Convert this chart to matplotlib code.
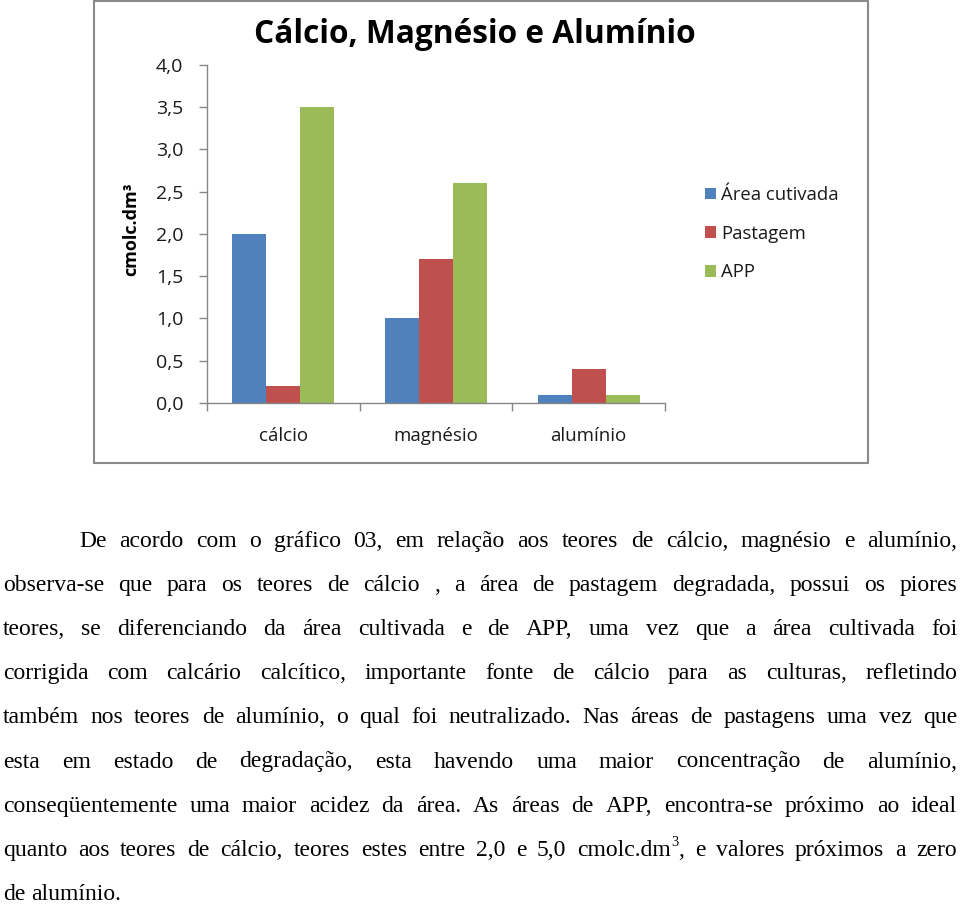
import matplotlib
matplotlib.use("Agg")
import matplotlib.pyplot as plt
import numpy as np
from matplotlib.patches import Rectangle

# dados do gráfico
categories = ["cálcio", "magnésio", "alumínio"]
series_names = ["Área cutivada", "Pastagem", "APP"]
area_cultivada = [2.0, 1.0, 0.1]
pastagem = [0.2, 1.7, 0.4]
app = [3.5, 2.6, 0.1]
y_ticks = [0.0, 0.5, 1.0, 1.5, 2.0, 2.5, 3.0, 3.5, 4.0]
y_tick_labels = ["0,0", "0,5", "1,0", "1,5", "2,0", "2,5", "3,0", "3,5", "4,0"]
title = "Cálcio, Magnésio e Alumínio"
y_label = "cmolc.dm³"
colors = ["#4F81BD", "#C0504D", "#9BBB59"]

# texto abaixo do gráfico (linhas justificadas); "^" marca o expoente
paragraph_lines = [
    "De acordo com o gráfico 03, em relação aos teores de cálcio, magnésio e alumínio,",
    "observa-se que para os teores de cálcio , a área de pastagem degradada, possui os piores",
    "teores, se diferenciando da área cultivada e de APP, uma vez que a área cultivada foi",
    "corrigida com calcário calcítico, importante fonte de cálcio para as culturas, refletindo",
    "também nos teores de alumínio, o qual foi neutralizado. Nas áreas de pastagens uma vez que",
    "esta em estado de degradação, esta havendo uma maior concentração de alumínio,",
    "conseqüentemente uma maior acidez da área. As áreas de APP, encontra-se próximo ao ideal",
    "quanto aos teores de cálcio, teores estes entre 2,0 e 5,0 cmolc.dm^3^, e valores próximos a zero",
    "de alumínio.",
]

W, H = 960, 906
fig = plt.figure(figsize=(W / 100, H / 100), dpi=100)

# camada de fundo em pixels
bg = fig.add_axes([0, 0, 1, 1])
bg.set_xlim(0, W)
bg.set_ylim(H, 0)
bg.axis("off")
bg.add_patch(Rectangle((93.5, 1), 774, 462, fill=False, edgecolor="#8a8a8a", lw=1.5))

chart_font = "Open Sans"
txt_color = "#1a1a1a"

# eixo do gráfico
ax = fig.add_axes([207 / W, 1 - 403 / H, 458 / W, 338 / H])
x = np.arange(len(categories))
bw = 0.222
for i, vals in enumerate([area_cultivada, pastagem, app]):
    ax.bar(x + (i - 1) * bw, vals, bw, color=colors[i], label=series_names[i], zorder=2)

ax.set_xlim(-0.5, 2.5)
ax.set_ylim(0, 4)
for s in ["top", "right"]:
    ax.spines[s].set_visible(False)
for s in ["left", "bottom"]:
    ax.spines[s].set_color("#868686")
    ax.spines[s].set_linewidth(1)

ax.set_yticks(y_ticks, y_tick_labels)
ax.tick_params(axis="y", length=6, width=1, color="#868686", pad=11,
               labelsize=14, labelcolor=txt_color)
ax.set_xticks(x, categories)
ax.set_xticks(np.arange(-0.5, 3, 1), minor=True)
ax.tick_params(axis="x", which="major", length=0, pad=17, labelsize=13.5, labelcolor=txt_color)
ax.tick_params(axis="x", which="minor", length=6, width=1, color="#868686")
for lab in ax.get_xticklabels() + ax.get_yticklabels():
    lab.set_family(chart_font)

bg.text(475, 43, title, fontsize=22.8, fontweight="bold", family=chart_font,
        ha="center", va="baseline", color="black")
bg.text(131, 229, y_label, fontsize=13, fontweight="bold", family=chart_font,
        rotation=90, ha="center", va="center", color="black")

leg = ax.legend(loc="upper left", bbox_to_anchor=(705 / W, 1 - 186 / H),
                bbox_transform=fig.transFigure, frameon=False, borderpad=0,
                borderaxespad=0, handlelength=0.6, handleheight=0.6,
                handletextpad=0.28, labelspacing=1.12,
                prop={"family": chart_font, "size": 13.3})
for t in leg.get_texts():
    t.set_color(txt_color)

# parágrafo justificado
renderer = fig.canvas.get_renderer()
fsize = 17
serif = "Liberation Serif"
x_right = 957
base_y = 547
line_gap = 44.1
space_w = 0.25 * fsize * 100 / 72


def make_word(word, y):
    # devolve lista de (Text, largura)
    parts = []
    if "^" in word:
        base, sup, tail = word.split("^")
        pieces = [(base, fsize, 0), (sup, fsize * 0.6, -fsize * 0.55), (tail, fsize, 0)]
    else:
        pieces = [(word, fsize, 0)]
    for s, sz, dy in pieces:
        if not s:
            continue
        t = bg.text(0, y + dy, s, fontsize=sz, family=serif,
                    va="baseline", ha="left", color="black")
        parts.append((t, t.get_window_extent(renderer).width))
    return parts


for k, line in enumerate(paragraph_lines):
    y = base_y + k * line_gap
    x0 = 79 if k == 0 else 3
    words = [make_word(w, y) for w in line.split(" ")]
    widths = [sum(p[1] for p in w) for w in words]
    if k < len(paragraph_lines) - 1 and len(words) > 1:
        gap = (x_right - x0 - sum(widths)) / (len(words) - 1)
    else:
        gap = space_w
    xp = x0
    for parts, w in zip(words, widths):
        xx = xp
        for t, pw in parts:
            t.set_x(xx)
            xx += pw
        xp += w + gap

fig.savefig("out.png", dpi=100)
